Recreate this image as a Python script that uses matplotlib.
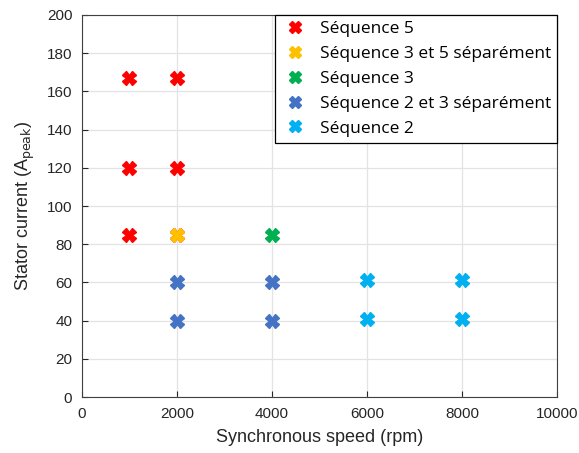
import matplotlib
matplotlib.use('Agg')
import matplotlib.pyplot as plt

labels = ['Séquence 5', 'Séquence 3 et 5 séparément', 'Séquence 3',
          'Séquence 2 et 3 séparément', 'Séquence 2']
colors = ['#FF0000', '#FFC000', '#00B050', '#4472C4', '#00B0F0']
speed = [
    [1000, 2000, 1000, 2000, 1000, 2000],
    [2000],
    [4000],
    [2000, 2000, 4000, 4000],
    [6000, 6000, 8000, 8000],
]
current = [
    [167, 167, 120, 120, 85, 85],
    [85],
    [85],
    [60, 40, 60, 40],
    [61, 41, 61, 41],
]

plt.rcParams['font.family'] = ['Liberation Sans', 'DejaVu Sans']
fig = plt.figure(figsize=(5.79, 4.53), dpi=100)
ax = fig.add_axes([0.1416, 0.1236, 0.8204, 0.8433])

for xs, ys, c, lab in zip(speed, current, colors, labels):
    ax.plot(xs, ys, linestyle='none', marker='X', markersize=10,
            color=c, markeredgecolor=c, label=lab)

ax.set_xlim(0, 10000)
ax.set_ylim(0, 200)
ax.set_xticks(range(0, 10001, 2000))
ax.set_yticks(range(0, 201, 20))
ax.grid(True, color='#e3e3e3', linewidth=0.9)
ax.set_axisbelow(True)
ax.tick_params(direction='in', labelsize=11, colors='#262626', length=4,
               pad=7, top=False, right=False)
for s in ax.spines.values():
    s.set_color('#404040')
ax.set_xlabel('Synchronous speed (rpm)', fontsize=13, color='#262626', labelpad=6)
ax.set_ylabel('Stator current (A$_{\\mathrm{peak}}$)', fontsize=13, color='#262626', labelpad=7)

leg = ax.legend(loc='upper right', bbox_to_anchor=(1.0, 1.0), fancybox=False,
                edgecolor='black', framealpha=1, borderaxespad=0,
                prop={'family': 'Open Sans', 'size': 12.5},
                handletextpad=0.6, labelspacing=0.5, borderpad=0.35,
                handlelength=1.6, markerscale=0.9)
leg.get_frame().set_linewidth(0.9)

fig.savefig('out.png', dpi=100)
